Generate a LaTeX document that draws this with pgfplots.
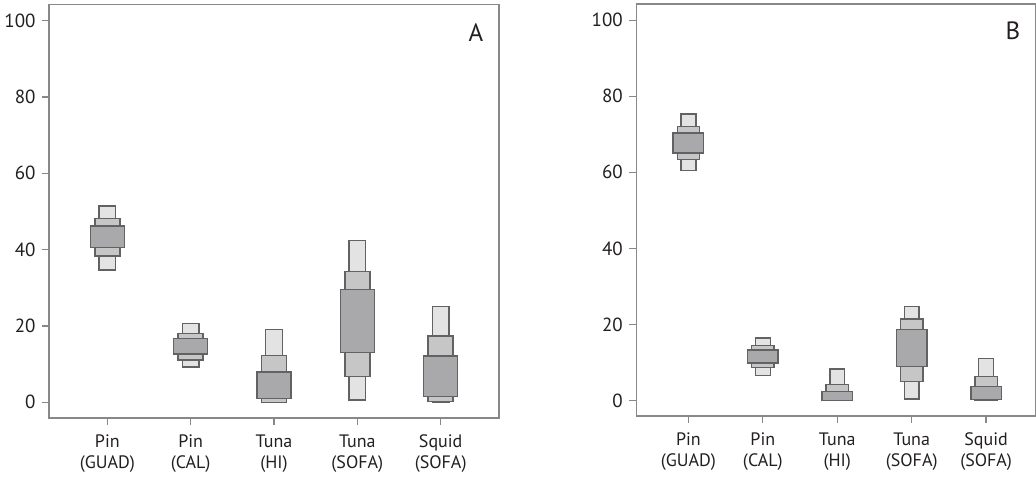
\documentclass[border=0pt]{standalone}
\usepackage{pgfplots}
\pgfplotsset{compat=1.18}
\usepackage{pgfplotstable}
\usepackage{fontspec}
\setmainfont{PT Sans}

\definecolor{boxlight}{HTML}{E3E3E3}
\definecolor{boxmid}{HTML}{C6C6C6}
\definecolor{boxdark}{HTML}{A9A9AB}
\definecolor{boxedge}{HTML}{626262}
\definecolor{framegray}{HTML}{888888}
\definecolor{textgray}{HTML}{231F20}

% columns: x, outer interval lo/hi, middle interval lo/hi, inner interval lo/hi
\pgfplotstableread{
x lA hA lB hB lC hC
0 34.7 51.4 38.3 48.2 40.6 46.2
1 9.3 20.7 11.1 18.1 12.7 16.8
2 0.0 19.1 0.0 12.3 1.0 8.0
3 0.6 42.4 6.7 34.3 13.1 29.6
4 0.0 25.1 0.3 17.4 1.5 12.1
}\dataA

\pgfplotstableread{
x lA hA lB hB lC hC
0 60.5 75.3 63.3 72.1 65.1 70.3
1 6.5 16.4 8.7 14.5 9.8 13.3
2 0.0 8.3 0.0 4.2 0.0 2.4
3 0.4 24.7 5.0 21.4 8.9 18.7
4 0.0 11.0 0.0 6.3 0.2 3.7
}\dataB

\pgfplotsset{
  panel/.style={
    scale only axis,
    ybar stacked,
    stack negative=on previous,
    reverse stacked plots=false,
    xmin=-0.7, ymin=-4.1, ymax=104.2,
    xtick={0,...,4},
    xticklabels={{Pin\\(GUAD)},{Pin\\(CAL)},{Tuna\\(HI)},{Tuna\\(SOFA)},{Squid\\(SOFA)}},
    ytick={0,20,...,100},
    axis line style={framegray, line width=1.6pt},
    tick style={framegray, line width=1.3pt},
    major tick length=7pt,
    tick align=outside,
    xtick pos=left, ytick pos=left,
    /pgf/number format/assume math mode=true,
    yticklabel style={font=\fontsize{19}{22}\selectfont, text=textgray, xshift=-3pt},
    xticklabel style={font=\fontsize{18}{21}\selectfont, text=textgray, align=center, yshift=-6pt},
  },
  gap/.style={draw=none, fill=none, forget plot},
  box/.style={draw=boxedge, line width=1.4pt, fill=#1},
}

\newcommand{\intervals}[1]{%
  \addplot[gap, bar width=0.2] table[x=x, y=lA] {#1};
  \addplot[box=boxlight, bar width=0.2] table[x=x, y expr=\thisrow{hA}-\thisrow{lA}] {#1};
  \addplot[gap, bar width=0.3] table[x=x, y expr=\thisrow{lB}-\thisrow{hA}] {#1};
  \addplot[box=boxmid, bar width=0.3] table[x=x, y expr=\thisrow{hB}-\thisrow{lB}] {#1};
  \addplot[gap, bar width=0.41] table[x=x, y expr=\thisrow{lC}-\thisrow{hB}] {#1};
  \addplot[box=boxdark, bar width=0.41] table[x=x, y expr=\thisrow{hC}-\thisrow{lC}] {#1};
}

\begin{document}
\begin{tikzpicture}
\useasboundingbox (0,0) rectangle (1036pt,477pt);

\begin{axis}[panel, at={(49pt,59pt)}, anchor=south west,
  width=450pt, height=413.5pt, xmax=4.7]
  \intervals{\dataA}
  \node[text=textgray, font=\fontsize{25}{28}\selectfont] at (rel axis cs:0.949,0.933) {A};
\end{axis}

\begin{axis}[panel, at={(636.3pt,61pt)}, anchor=south west,
  width=399.7pt, height=411.7pt, xmax=4.67]
  \intervals{\dataB}
  \node[text=textgray, font=\fontsize{25}{28}\selectfont] at (rel axis cs:0.942,0.935) {B};
\end{axis}
\end{tikzpicture}
\end{document}
